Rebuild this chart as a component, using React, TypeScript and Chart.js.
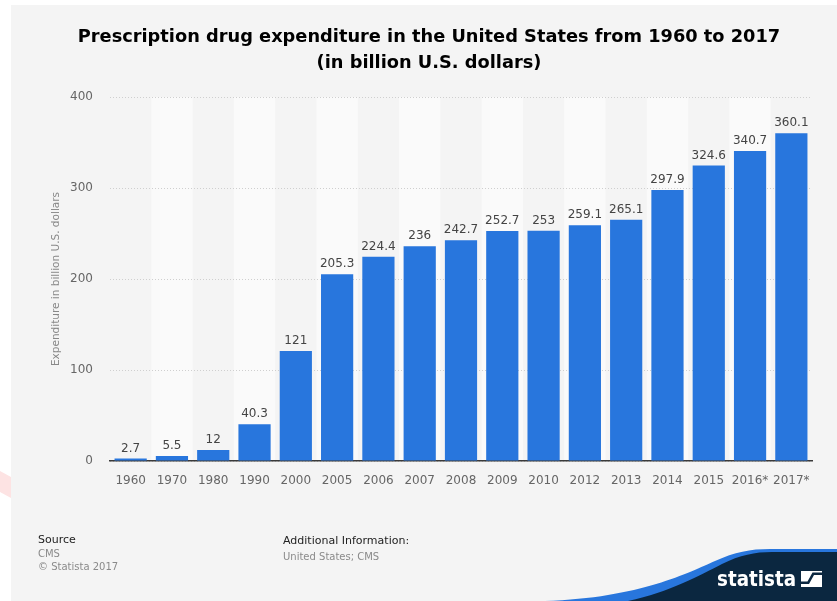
import React, { useEffect, useRef } from "react";
import { Chart, registerables } from "chart.js";

Chart.register(...registerables);

const categories = ["1960", "1970", "1980", "1990", "2000", "2005", "2006", "2007", "2008", "2009", "2010", "2012", "2013", "2014", "2015", "2016*", "2017*"];
const values = [2.7, 5.5, 12, 40.3, 121, 205.3, 224.4, 236, 242.7, 252.7, 253, 259.1, 265.1, 297.9, 324.6, 340.7, 360.1];
const yTicks = [0, 100, 200, 300, 400];
const titleLines = ["Prescription drug expenditure in the United States from 1960 to 2017", "(in billion U.S. dollars)"];
const yAxisTitle = "Expenditure in billion U.S. dollars";

const FONT = "'DejaVu Sans', sans-serif";
const BAR = "#2876dd";
const NAVY = "#0b2740";

const decorPlugin = {
  id: "decor",
  beforeDraw(chart: any) {
    const { ctx, width, height, chartArea, scales } = chart;
    ctx.save();
    ctx.fillStyle = "#ffffff";
    ctx.fillRect(0, 0, width, height);
    ctx.fillStyle = "#f4f4f4";
    ctx.fillRect(11, 5, width - 11, height - 5);
    ctx.fillStyle = "#fde3e3";
    ctx.beginPath();
    ctx.moveTo(0, 471);
    ctx.lineTo(11, 477);
    ctx.lineTo(11, 498);
    ctx.lineTo(0, 492);
    ctx.closePath();
    ctx.fill();
    const x = scales.x;
    const step = (chartArea.right - chartArea.left) / categories.length;
    ctx.fillStyle = "#fafafa";
    for (let i = 1; i < categories.length; i += 2) {
      const cx = x.getPixelForValue(i);
      ctx.fillRect(cx - step / 2, chartArea.top, step, chartArea.bottom - chartArea.top);
    }
    ctx.restore();
  },
  afterDatasetsDraw(chart: any) {
    const { ctx } = chart;
    const meta = chart.getDatasetMeta(0);
    ctx.save();
    ctx.font = `12px ${FONT}`;
    ctx.fillStyle = "#444444";
    ctx.textAlign = "center";
    ctx.textBaseline = "bottom";
    meta.data.forEach((el: any, i: number) => {
      ctx.fillText(String(values[i]), el.x, el.y - 4);
    });
    ctx.restore();
  },
  afterDraw(chart: any) {
    const { ctx, width, height, chartArea } = chart;
    ctx.save();
    ctx.fillStyle = "#000000";
    ctx.textAlign = "center";
    ctx.textBaseline = "middle";
    ctx.font = `bold 17.8px ${FONT}`;
    ctx.fillText(titleLines[0], 429, 37);
    ctx.fillText(titleLines[1], 429, 63);
    ctx.save();
    ctx.translate(56, (chartArea.top + chartArea.bottom) / 2);
    ctx.rotate(-Math.PI / 2);
    ctx.font = `10.5px ${FONT}`;
    ctx.fillStyle = "#888888";
    ctx.fillText(yAxisTitle, 0, 0);
    ctx.restore();
    ctx.textAlign = "left";
    ctx.textBaseline = "middle";
    ctx.font = `11px ${FONT}`;
    ctx.fillStyle = "#222222";
    ctx.fillText("Source", 38, 540);
    ctx.fillText("Additional Information:", 283, 541);
    ctx.font = `10px ${FONT}`;
    ctx.fillStyle = "#8a8a8a";
    ctx.fillText("CMS", 38, 554);
    ctx.fillText("\u00a9 Statista 2017", 38, 567);
    ctx.fillText("United States; CMS", 283, 557);
    // logo wave
    ctx.fillStyle = BAR;
    ctx.beginPath();
    ctx.moveTo(545, height);
    ctx.bezierCurveTo(640, 598, 690, 572, 715, 561);
    ctx.bezierCurveTo(735, 552, 750, 549, 770, 549);
    ctx.lineTo(width, 549);
    ctx.lineTo(width, height);
    ctx.closePath();
    ctx.fill();
    ctx.fillStyle = NAVY;
    ctx.beginPath();
    ctx.moveTo(628, height);
    ctx.bezierCurveTo(670, 592, 700, 575, 722, 564);
    ctx.bezierCurveTo(740, 555, 755, 552, 772, 552);
    ctx.lineTo(width, 552);
    ctx.lineTo(width, height);
    ctx.closePath();
    ctx.fill();
    // logo text, fitted to width
    ctx.fillStyle = "#ffffff";
    ctx.font = `bold 22px ${FONT}`;
    ctx.textBaseline = "alphabetic";
    const w = ctx.measureText("statista").width;
    ctx.save();
    ctx.translate(717, 586);
    ctx.scale(79 / w, 1);
    ctx.fillText("statista", 0, 0);
    ctx.restore();
    // icon
    ctx.fillStyle = "#ffffff";
    ctx.fillRect(801, 571, 21, 16);
    ctx.fillStyle = NAVY;
    ctx.beginPath();
    ctx.moveTo(801, 584);
    ctx.lineTo(809, 584);
    ctx.lineTo(814, 575);
    ctx.lineTo(822, 575);
    ctx.lineTo(822, 572.5);
    ctx.lineTo(812.5, 572.5);
    ctx.lineTo(807.5, 581.5);
    ctx.lineTo(801, 581.5);
    ctx.closePath();
    ctx.fill();
    ctx.restore();
  },
};

export default function App() {
  const ref = useRef<HTMLCanvasElement>(null);
  useEffect(() => {
    document.body.style.margin = "0";
    const chart = new Chart(ref.current as HTMLCanvasElement, {
      type: "bar",
      data: {
        labels: categories,
        datasets: [
          {
            data: values,
            backgroundColor: BAR,
            borderWidth: 0,
            categoryPercentage: 1,
            barPercentage: 0.78,
          },
        ],
      },
      options: {
        animation: false,
        responsive: false,
        maintainAspectRatio: false,
        layout: { padding: { left: 0, right: 25, top: 97, bottom: 110 } },
        plugins: { legend: { display: false }, tooltip: { enabled: false } },
        scales: {
          x: {
            afterFit: (a: any) => { a.height = 30; },
            grid: { display: false },
            border: { display: true, color: "#3a3a3a", width: 1.5 },
            ticks: { color: "#666666", font: { family: FONT, size: 12 }, padding: 5, maxRotation: 0, autoSkip: false },
          },
          y: {
            min: 0,
            max: 400,
            afterFit: (a: any) => { a.width = 110; },
            afterBuildTicks: (a: any) => { a.ticks = yTicks.map((v) => ({ value: v })); },
            border: { display: false, dash: [1, 2] },
            grid: { color: "#cfcfcf", lineWidth: 1, drawTicks: false },
            ticks: { color: "#666666", font: { family: FONT, size: 12 }, padding: 17 },
          },
        },
      },
      plugins: [decorPlugin],
    });
    return () => chart.destroy();
  }, []);
  return (
    <div style={{ position: "absolute", left: 0, top: 0, width: 837, height: 601 }}>
      <canvas ref={ref} width={837} height={601} style={{ width: 837, height: 601, display: "block" }} />
    </div>
  );
}
